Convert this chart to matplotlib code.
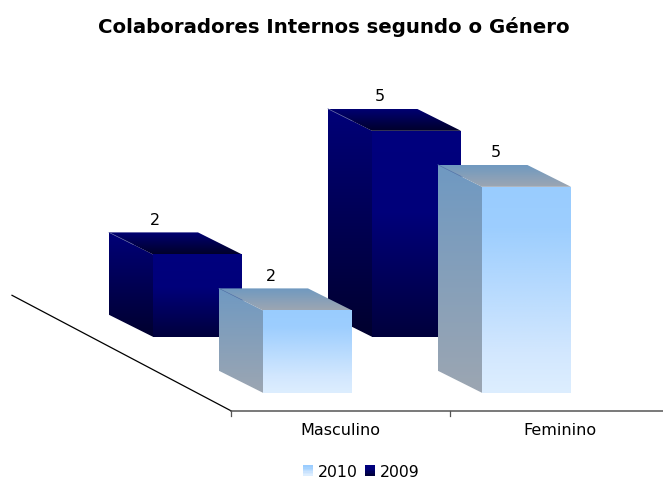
import numpy as np
import matplotlib
matplotlib.use("Agg")
import matplotlib.pyplot as plt
from matplotlib.colors import LinearSegmentedColormap
from matplotlib.legend_handler import HandlerBase
from matplotlib.patches import Polygon, Rectangle

# ---- data ----
title = "Colaboradores Internos segundo o Género"
categories = ["Masculino", "Feminino"]
series_names = ["2010", "2009"]
values_2009 = [2, 5]
values_2010 = [2, 5]

# ---- layout (pixels of the 663x481 figure) ----
W, H = 663, 481
CAT_PX = 219.0        # pixels per category
CAT0_PX = 340.5       # pixel x of first category centre
UNIT_PX = 41.2        # pixels per value unit
BASE_PX = 393.8       # pixel y of value 0 on the front row
BAR_W = 89 / CAT_PX
DEPTH_DX = 44 / CAT_PX
DEPTH_DY = 22 / UNIT_PX
OFF_2010 = (-33, 0)   # row offsets, px
OFF_2009 = (-143, 56)
AXIS_Y = -18 / UNIT_PX
FLOOR_DX, FLOOR_DY = 219 / CAT_PX, 115.5 / UNIT_PX

STY_2009 = dict(
    front=[(0, "#00007e"), (.4, "#00007a"), (1, "#00003c")],
    side=[(0, "#000078"), (1, "#00002e")],
    top=[(0, "#000072"), (1, "#00002a")],
    edge="#5a60a0",
)
STY_2010 = dict(
    front=[(0, "#99ccff"), (.2, "#9dcefe"), (.8, "#d2e7fe"), (1, "#ddeeff")],
    side=[(0, "#6f99c2"), (1, "#9ca6b2")],
    top=[(0, "#7099c0"), (1, "#9ca6b2")],
    edge="#5f82b0",
)

fig = plt.figure(figsize=(W / 100, H / 100), dpi=100, facecolor="white")
ax = fig.add_axes([0, 0, 1, 1])
ax.axis("off")
xlim = (-CAT0_PX / CAT_PX, (W - CAT0_PX) / CAT_PX)
ylim = ((BASE_PX - H) / UNIT_PX, BASE_PX / UNIT_PX)


def grad_poly(verts, stops, z):
    """Fill a polygon with a vertical gradient (stops listed from the top down)."""
    verts = np.asarray(verts, float)
    patch = Polygon(verts, closed=True, fc="none", ec="none", zorder=z)
    ax.add_patch(patch)
    cmap = LinearSegmentedColormap.from_list("g", stops)
    grad = np.linspace(0, 1, 256).reshape(-1, 1)
    im = ax.imshow(grad, cmap=cmap, aspect="auto", origin="upper", zorder=z,
                   extent=(verts[:, 0].min(), verts[:, 0].max(),
                           verts[:, 1].min(), verts[:, 1].max()),
                   vmin=0, vmax=1)
    im.set_clip_path(patch)


def box(i, value, off, sty, z, label_nudge):
    x0 = i + (off[0] / CAT_PX) - BAR_W / 2
    x1 = x0 + BAR_W
    b = off[1] / UNIT_PX
    t = b + value
    dx, dy = DEPTH_DX, DEPTH_DY
    grad_poly([(x0, b), (x0 - dx, b + dy), (x0 - dx, t + dy), (x0, t)], sty["side"], z)
    grad_poly([(x0, t), (x0 - dx, t + dy), (x1 - dx, t + dy), (x1, t)], sty["top"], z)
    grad_poly([(x0, b), (x1, b), (x1, t), (x0, t)], sty["front"], z + .1)
    # faint line on the upper-left corner only, fading out as in the reference
    xm, ym = x0 - dx * .45, t + dy * .45
    ax.plot([x0 - dx, xm], [t + dy, ym], color=sty["edge"], lw=.5, zorder=z + .2)
    ax.text(x0 + BAR_W / 2 + label_nudge / CAT_PX, t + dy + 13 / UNIT_PX, str(value),
            ha="center", va="center", fontsize=11.5, color="black", zorder=10)


for i, v in enumerate(values_2009):
    box(i, v, OFF_2009, STY_2009, 2 + i, [-42.5, -36.5][i])
for i, v in enumerate(values_2010):
    box(i, v, OFF_2010, STY_2010, 4 + i, [-36.5, -31][i])

# floor edge and category axis
ax.plot([-.5, -.5 - FLOOR_DX], [AXIS_Y, AXIS_Y + FLOOR_DY], color="black", lw=.9, zorder=1)
ax.plot([-.5, xlim[1]], [AXIS_Y, AXIS_Y], color="#555555", lw=1.1, zorder=1)
for tx in (-.5, .5):
    ax.plot([tx, tx], [AXIS_Y, AXIS_Y - 5 / UNIT_PX], color="#555555", lw=.9, zorder=1)
for i, c in enumerate(categories):
    ax.text(i, AXIS_Y - 19 / UNIT_PX, c, ha="center", va="center", fontsize=11.5, color="black")

fig.text(333.5 / W, 1 - 27 / H, title, ha="center", va="center",
         fontsize=14.25, fontweight="bold", color="black")


class GradHandler(HandlerBase):
    def __init__(self, stops):
        super().__init__()
        self.cmap = LinearSegmentedColormap.from_list("l", stops)

    def create_artists(self, legend, orig, xd, yd, width, height, fontsize, trans):
        n = 8
        out = []
        for k in range(n):
            out.append(Rectangle((-xd, -yd + height * (n - 1 - k) / n), width, height / n + .3,
                                 fc=self.cmap(k / (n - 1)), ec="none", transform=trans))
        return out


h10 = Rectangle((0, 0), 1, 1)
h09 = Rectangle((0, 0), 1, 1)
ax.legend([h10, h09], series_names,
          handler_map={h10: GradHandler(STY_2010["front"]), h09: GradHandler(STY_2009["front"])},
          loc="center", bbox_to_anchor=(361 / W, 1 - 472.5 / H), bbox_transform=fig.transFigure,
          ncol=2, frameon=False, fontsize=11.3, handlelength=.65, handleheight=.7,
          handletextpad=.3, columnspacing=.45, borderpad=0)

ax.set_xlim(*xlim)
ax.set_ylim(*ylim)
fig.savefig("out.png", dpi=100, facecolor="white")
